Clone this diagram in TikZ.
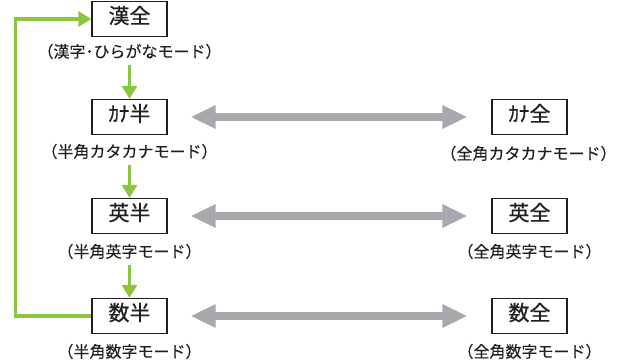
\documentclass[tikz,border=0pt]{standalone}
\usepackage{fontspec}
\setmainfont{Noto Sans CJK JP}
\newfontfamily\boxfont[FakeBold=0.6]{Noto Sans CJK JP}
\newfontfamily\labelfont[FakeBold=0.25]{Noto Sans CJK JP}
\usetikzlibrary{arrows.meta}
\definecolor{grn}{HTML}{8CC63F}
\definecolor{gry}{HTML}{A7A9AC}
\definecolor{ink}{HTML}{231F20}
\begin{document}
\begin{tikzpicture}[x=1pt,y=-1pt,
  modebox/.style={draw=ink, line width=1.3pt, minimum width=75pt, minimum height=35pt,
    inner sep=0pt, font=\boxfont\fontsize{21}{21}\selectfont, text=ink, fill=white,
    text height=0.95em, text depth=0.05em},
  modelabel/.style={font=\labelfont\fontsize{16}{17}\selectfont, text=ink, inner sep=0pt,
    text height=0.95em, text depth=0.05em},
  greenarrow/.style={draw=grn, line width=3.6pt, -{Triangle[width=15pt,length=13pt]}},
  grayarrow/.style={draw=gry, line width=8pt,
    {Triangle[width=22pt,length=25pt]}-{Triangle[width=22pt,length=25pt]},
    shorten <=23pt, shorten >=24pt}]
\useasboundingbox (0,0) rectangle (618,362);
% left column
\node[modebox] (kz) at (129.5,19) {漢全};
\node[modelabel] (kzl) at (129.5,53) {（漢字･ひらがなモード）};
\node[modebox] (kh) at (129.5,117) {ｶﾅ半};
\node[modelabel] (khl) at (129.5,153) {（半角カタカナモード）};
\node[modebox] (eh) at (129.5,216) {英半};
\node[modelabel] (ehl) at (129.5,253) {（半角英字モード）};
\node[modebox] (sh) at (129.5,316) {数半};
\node[modelabel] (shl) at (129.5,353) {（半角数字モード）};
% right column
\node[modebox] (kf) at (529.5,117) {ｶﾅ全};
\node[modelabel] (kfl) at (528.5,155) {（全角カタカナモード）};
\node[modebox] (ef) at (529.5,216) {英全};
\node[modelabel] (efl) at (529.5,253) {（全角英字モード）};
\node[modebox] (sf) at (529.5,316) {数全};
\node[modelabel] (sfl) at (529.5,353) {（全角数字モード）};
% green flow
\draw[greenarrow, shorten <=7pt] (kzl.south) -- (kh.north);
\draw[greenarrow, shorten <=7pt] (khl.south) -- (eh.north);
\draw[greenarrow, shorten <=7pt] (ehl.south) -- (sh.north);
\coordinate (loopx) at (15.5,170);
\draw[greenarrow] (sh.west) -| (loopx) |- (kz.west);
% gray double arrows
\draw[grayarrow] (kh.east) -- (kf.west);
\draw[grayarrow] (eh.east) -- (ef.west);
\draw[grayarrow] (sh.east) -- (sf.west);
\end{tikzpicture}
\end{document}
